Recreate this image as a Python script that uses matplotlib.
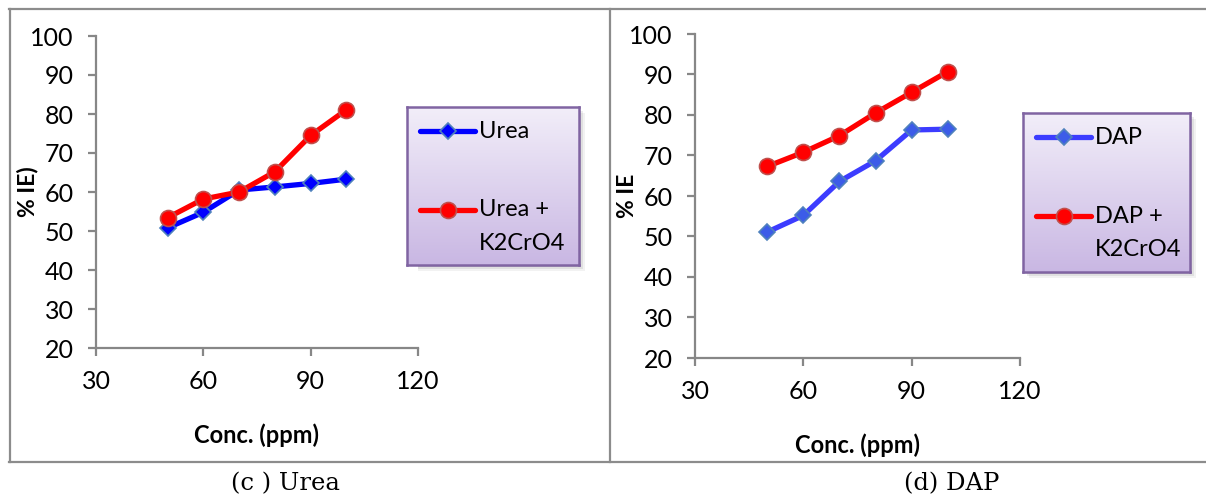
import matplotlib
matplotlib.use("Agg")
import matplotlib.pyplot as plt
import matplotlib.lines as mlines
import matplotlib.patches as patches
import numpy as np

# data
conc = [50, 60, 70, 80, 90, 100]
urea = [50.8, 54.8, 60.5, 61.3, 62.2, 63.3]
urea_k2cro4 = [53.4, 58.2, 60.0, 65.2, 74.5, 81.1]
dap = [51.1, 55.2, 63.6, 68.7, 76.3, 76.5]
dap_k2cro4 = [67.3, 70.8, 74.9, 80.5, 85.6, 90.7]
xticks = [30, 60, 90, 120]
yticks = [20, 30, 40, 50, 60, 70, 80, 90, 100]

W, H = 1206, 498
FONT = "Lato"
GREY = "#878787"

fig = plt.figure(figsize=(W / 100, H / 100), dpi=100)


def px(x0, y0, x1, y1):
    # pixel box (top-left origin) -> figure fraction rect
    return [x0 / W, 1 - y1 / H, (x1 - x0) / W, (y1 - y0) / H]


def fline(xs, ys, **kw):
    fig.add_artist(mlines.Line2D([x / W for x in xs], [1 - y / H for y in ys],
                                 transform=fig.transFigure, **kw))


# panel frames
kw = dict(color="#8c8c8c", lw=1.6)
fline([9, 1206], [9.5, 9.5], **kw)
fline([9, 1206], [462, 462], **kw)
fline([9.5, 9.5], [9, 462], **kw)
fline([610, 610], [9, 462], **kw)


def make_panel(box, ylabel, s1, s2, c_blue, mk_blue, xlab_y, ylab_x):
    ax = fig.add_axes(px(*box))
    ax.plot(conc, s1, color=c_blue, lw=3.8, marker="D", ms=8,
            mfc=mk_blue, mec="#4f81bd", mew=1.2, zorder=3)
    ax.plot(conc, s2, color="#ff0000", lw=3.8, marker="o", ms=11.5,
            mfc="#ff0000", mec="#c0504d", mew=1.2, zorder=4)
    ax.set_xlim(30, 120)
    ax.set_ylim(20, 100)
    ax.set_xticks(xticks)
    ax.set_yticks(yticks)
    for s in ["top", "right"]:
        ax.spines[s].set_visible(False)
    for s in ["left", "bottom"]:
        ax.spines[s].set_color(GREY)
        ax.spines[s].set_linewidth(1.6)
    ax.tick_params(direction="out", length=6, width=1.6, color=GREY,
                   labelsize=18, pad=10)
    for t in ax.get_xticklabels() + ax.get_yticklabels():
        t.set_fontfamily(FONT)
    ax.set_ylabel(ylabel, fontsize=16.5, fontweight="bold", fontfamily=FONT)
    ax.yaxis.set_label_coords((ylab_x - box[0]) / (box[2] - box[0]), 0.5)
    ax.set_xlabel("Conc. (ppm)", fontsize=17, fontweight="bold",
                  fontfamily=FONT)
    ax.xaxis.set_label_coords(0.5, -(xlab_y - box[3]) / (box[3] - box[1]))
    return ax


def make_legend(box, labels, c_blue, mk_blue):
    x0, y0, x1, y1 = box
    # soft shadow behind the box
    for i, a in enumerate([0.10, 0.07, 0.05]):
        d = 2 + i * 2
        sh = patches.Rectangle(((x0 + d) / W, 1 - (y1 + d) / H),
                               (x1 - x0) / W, (y1 - y0) / H,
                               transform=fig.transFigure, color="black",
                               alpha=a, lw=0, zorder=-5)
        fig.add_artist(sh)
    lax = fig.add_axes(px(*box))
    lax.set_zorder(2)
    grad = np.linspace(0, 1, 256).reshape(-1, 1, 1)
    top = np.array([0xf2, 0xee, 0xf9]) / 255
    bot = np.array([0xc9, 0xb7, 0xe3]) / 255
    img = top * (1 - grad) + bot * grad
    lax.imshow(img, aspect="auto", extent=[0, 1, 0, 1], origin="upper")
    lax.set_xlim(0, 1)
    lax.set_ylim(0, 1)
    lax.set_xticks([])
    lax.set_yticks([])
    for s in lax.spines.values():
        s.set_color("#8064a2")
        s.set_linewidth(1.8)
    bw = x1 - x0
    bh = y1 - y0

    def fx(x):
        return (x - x0) / bw

    def fy(y):
        return 1 - (y - y0) / bh

    hx0, hx1 = x0 + 13, x0 + 68
    ty1 = y0 + 24
    ty2 = y0 + 103
    lax.plot([fx(hx0), fx(hx1)], [fy(ty1), fy(ty1)], color=c_blue, lw=3.8,
             solid_capstyle="round")
    lax.plot([fx((hx0 + hx1) / 2)], [fy(ty1)], marker="D", ms=8,
             mfc=mk_blue, mec="#4f81bd", mew=1.2)
    lax.plot([fx(hx0), fx(hx1)], [fy(ty2), fy(ty2)], color="#ff0000", lw=3.8,
             solid_capstyle="round")
    lax.plot([fx((hx0 + hx1) / 2)], [fy(ty2)], marker="o", ms=11.5,
             mfc="#ff0000", mec="#c0504d", mew=1.2)
    tx = fx(hx1 + 4)
    for lab, yy in zip(labels, [ty1, ty2, ty2 + 33]):
        lax.text(tx, fy(yy), lab, fontsize=17, fontfamily=FONT,
                 va="center", ha="left")


# (c) Urea
make_panel((96, 36, 418, 348), "% IE)", urea, urea_k2cro4, "#0000ff",
           "#0000ff", 423, 38)
make_legend((407, 107, 579, 265), ["Urea", "Urea +", "K2CrO4"], "#0000ff",
            "#0000ff")

# (d) DAP
make_panel((695, 34, 1020, 358), "% IE", dap, dap_k2cro4, "#3c3cff",
           "#3c5ce8", 433, 638)
make_legend((1023, 113, 1190, 272), ["DAP", "DAP +", "K2CrO4"], "#3c3cff",
            "#3c5ce8")

# captions
fig.text(285 / W, 1 - 484 / H, "(c ) Urea", fontsize=17.5,
         fontfamily="DejaVu Serif", ha="center", va="center")
fig.text(952 / W, 1 - 484 / H, "(d) DAP", fontsize=17.5,
         fontfamily="DejaVu Serif", ha="center", va="center")

fig.savefig("out.png", dpi=100)
